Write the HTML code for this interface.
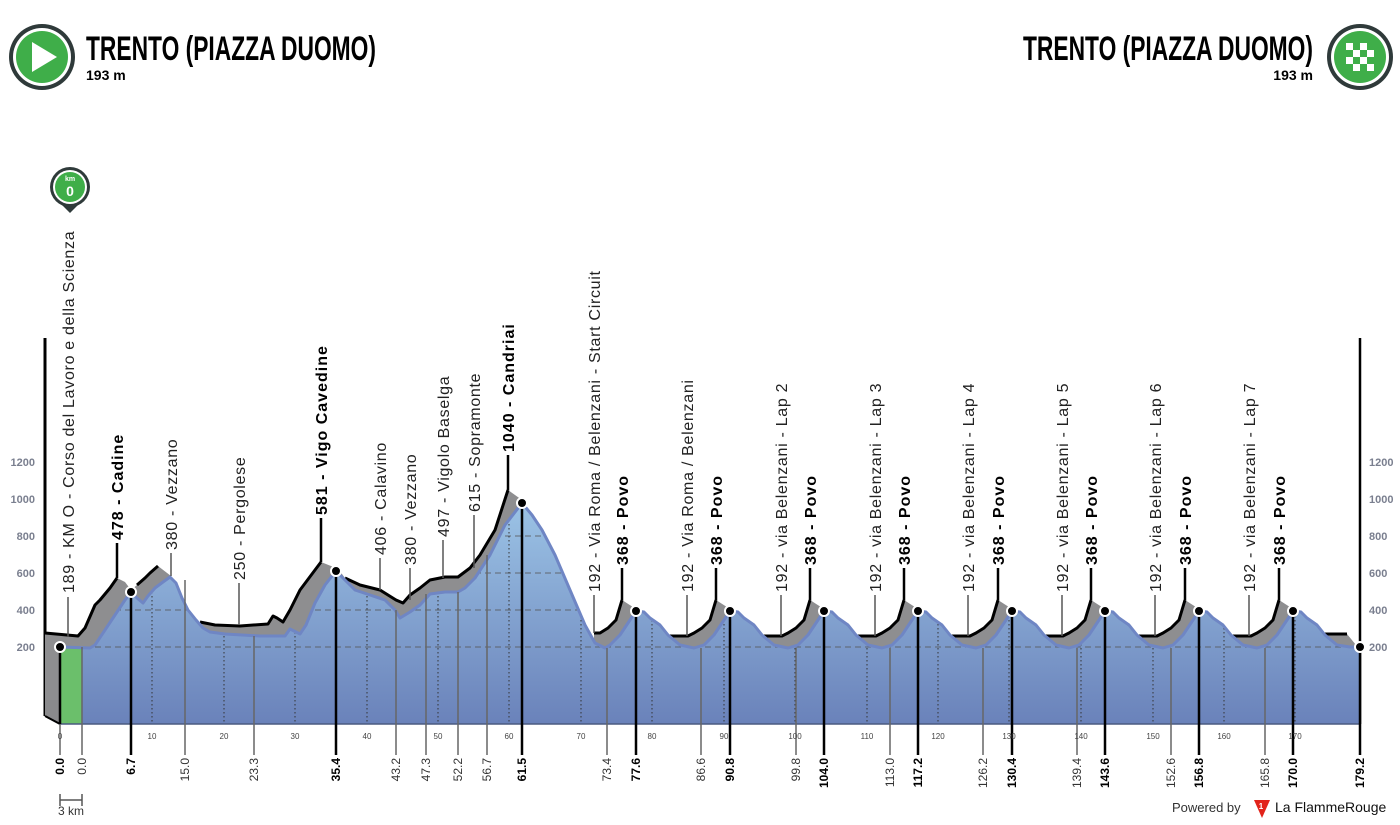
<!DOCTYPE html>
<html><head><meta charset="utf-8"><style>
html,body{margin:0;padding:0;background:#fff;}
svg{display:block;font-family:"Liberation Sans",sans-serif;}
.up{font-size:16px;fill:#222;letter-spacing:0.7px;}
.upb{font-size:16px;fill:#000;font-weight:bold;letter-spacing:1px;}
.lo{font-size:12px;fill:#333;}
.lob{font-size:12px;fill:#000;font-weight:bold;}
.tk{font-size:8px;fill:#444;font-family:"Liberation Sans Narrow","Liberation Sans",sans-serif;}
.ax{font-size:11px;fill:#7a7f8f;font-weight:bold;font-family:"Liberation Sans Narrow","Liberation Sans",sans-serif;}
</style></head><body>
<svg width="1400" height="825" viewBox="0 0 1400 825">
<defs>
<linearGradient id="bg" x1="0" y1="500" x2="0" y2="724" gradientUnits="userSpaceOnUse">
<stop offset="0" stop-color="#9cc4e6"/><stop offset="1" stop-color="#6a82ba"/></linearGradient>
<clipPath id="cp"><path id="frontd" d="M60,724 L60,647 90,648 95,645 105,630 115,615 125,600 131,592 137,598 143,603 148,596 155,588 163,582 170,577 176,583 182,598 188,610 196,620 203,628 210,632 225,634 260,636 285,636 290,629 296,632 300,634 306,625 315,603 325,585 336,571 345,580 355,590 370,595 385,600 395,610 400,618 410,612 420,605 430,594 445,592 458,592 465,588 475,578 490,555 505,525 522,503 532,515 542,530 555,555 570,590 585,625 595,643 605,648 610,645 620,635 630,620 636,611 644,612 650,618 660,625 668,635 680,645 694,648 704,645 714,635 724,620 730,611 738,612 744,618 754,625 762,635 774,645 788,648 798,645 808,635 818,620 824,611 832,612 838,618 848,625 856,635 868,645 882,648 892,645 902,635 912,620 918,611 926,612 932,618 942,625 950,635 962,645 976,648 986,645 996,635 1006,620 1012,611 1020,612 1026,618 1036,625 1044,635 1056,645 1069,648 1079,645 1089,635 1099,620 1105,611 1113,612 1119,618 1129,625 1137,635 1149,645 1163,648 1173,645 1183,635 1193,620 1199,611 1207,612 1213,618 1223,625 1231,635 1243,645 1257,648 1267,645 1277,635 1287,620 1293,611 1301,612 1307,618 1317,625 1325,635 1337,645 1350,647 1360,647 1360,724 Z"/></clipPath>
</defs>

<!-- header -->
<circle cx="42" cy="57" r="33" fill="#2f3a3a"/><circle cx="42" cy="57" r="29" fill="#fff"/><circle cx="42" cy="57" r="26" fill="#3fae49"/>
<polygon points="32,42 32,72 57,57" fill="#fff"/>
<text x="86" y="60" font-size="34" font-weight="bold" font-family="'Liberation Sans Narrow','Liberation Sans',sans-serif" textLength="290" lengthAdjust="spacingAndGlyphs">TRENTO (PIAZZA DUOMO)</text>
<text x="86" y="80" font-size="14" font-weight="bold" font-family="'Liberation Sans Narrow','Liberation Sans',sans-serif">193 m</text>
<text x="1313" y="60" font-size="34" font-weight="bold" text-anchor="end" font-family="'Liberation Sans Narrow','Liberation Sans',sans-serif" textLength="290" lengthAdjust="spacingAndGlyphs">TRENTO (PIAZZA DUOMO)</text>
<text x="1313" y="80" font-size="14" font-weight="bold" text-anchor="end" font-family="'Liberation Sans Narrow','Liberation Sans',sans-serif">193 m</text>
<circle cx="1360" cy="57" r="33" fill="#2f3a3a"/><circle cx="1360" cy="57" r="29" fill="#fff"/><circle cx="1360" cy="57" r="26" fill="#3fae49"/>
<g fill="#fff"><rect x="1346" y="43" width="28" height="28"/></g>
<g fill="#3fae49"><rect x="1353" y="43" width="7" height="7"/><rect x="1367" y="43" width="7" height="7"/><rect x="1346" y="50" width="7" height="7"/><rect x="1360" y="50" width="7" height="7"/><rect x="1353" y="57" width="7" height="7"/><rect x="1367" y="57" width="7" height="7"/><rect x="1346" y="64" width="7" height="7"/><rect x="1360" y="64" width="7" height="7"/></g>

<!-- km0 pin -->
<path d="M52,195 L70,213 L88,195 Z" fill="#2f3a3a"/>
<circle cx="70" cy="187" r="20" fill="#2f3a3a"/><circle cx="70" cy="187" r="17" fill="#fff"/><circle cx="70" cy="187" r="15" fill="#3fae49"/>
<text x="70" y="181" font-size="7" fill="#fff" text-anchor="middle" font-weight="bold">km</text>
<text x="70" y="196" font-size="14" fill="#fff" text-anchor="middle" font-weight="bold">0</text>

<!-- axes -->
<line x1="45" y1="338" x2="45" y2="716" stroke="#000" stroke-width="3"/>
<line x1="1360" y1="338" x2="1360" y2="724" stroke="#000" stroke-width="2.5"/>
<g class="ax" text-anchor="end">
<text x="35" y="466">1200</text><text x="35" y="503">1000</text><text x="35" y="540">800</text><text x="35" y="577">600</text><text x="35" y="614">400</text><text x="35" y="651">200</text></g>
<g class="ax">
<text x="1369" y="466">1200</text><text x="1369" y="503">1000</text><text x="1369" y="540">800</text><text x="1369" y="577">600</text><text x="1369" y="614">400</text><text x="1369" y="651">200</text></g>

<!-- left face -->
<polygon points="45,633 60,647 60,724 45,716" fill="#8a8a8c"/>
<line x1="45" y1="716" x2="60" y2="724" stroke="#000" stroke-width="2"/>

<!-- gray ridge areas -->
<g fill="#8e8e90">
<polygon points="45,633 78,636 85,628 95,605 100,600 110,588 117,578 125,582 131,590 137,585 145,578 150,573 158,566 171,576 171,700 45,700"/>
<polygon points="200,622 215,625 240,626 268,624 273,616 277,618 283,622 290,610 300,590 315,570 321,562 336,568 336,700 200,700"/>
<polygon points="336,566 345,578 360,585 380,590 396,600 403,603 410,595 420,588 430,580 445,577 458,577 470,568 480,555 495,530 508,490 522,500 522,700 336,700"/>
<polygon points="594,633 600,633 608,628 616,620 622,600 636,609 636,700 594,700"/>
<polygon points="670,636 688,636 694,633 702,628 710,620 716,600 730,609 730,700 670,700"/>
<polygon points="764,636 782,636 788,633 796,628 804,620 810,600 824,609 824,700 764,700"/>
<polygon points="858,636 876,636 882,633 890,628 898,620 904,600 918,609 918,700 858,700"/>
<polygon points="952,636 970,636 976,633 984,628 992,620 998,600 1012,609 1012,700 952,700"/>
<polygon points="1045,636 1063,636 1069,633 1077,628 1085,620 1091,600 1105,609 1105,700 1045,700"/>
<polygon points="1139,636 1157,636 1163,633 1171,628 1179,620 1185,600 1199,609 1199,700 1139,700"/>
<polygon points="1233,636 1251,636 1257,633 1265,628 1273,620 1279,600 1293,609 1293,700 1233,700"/>
<polygon points="1325,634 1347,634 1356,645 1356,700 1325,700"/>
</g>
<g fill="none" stroke="#000" stroke-width="3" stroke-linejoin="round">
<polyline points="45,633 78,636 85,628 95,605 100,600 110,588 117,578"/>
<polyline points="137,585 145,578 150,573 158,566"/>
<polyline points="200,622 215,625 240,626 268,624 273,616 277,618 283,622 290,610 300,590 315,570 321,562"/>
<polyline points="345,578 360,585 380,590 396,600 403,603 410,595 420,588 430,580 445,577 458,577 470,568 480,555 495,530 508,490"/>
<polyline points="594,633 600,633 608,628 616,620 622,600"/>
<polyline points="670,636 688,636 694,633 702,628 710,620 716,600"/>
<polyline points="764,636 782,636 788,633 796,628 804,620 810,600"/>
<polyline points="858,636 876,636 882,633 890,628 898,620 904,600"/>
<polyline points="952,636 970,636 976,633 984,628 992,620 998,600"/>
<polyline points="1045,636 1063,636 1069,633 1077,628 1085,620 1091,600"/>
<polyline points="1139,636 1157,636 1163,633 1171,628 1179,620 1185,600"/>
<polyline points="1233,636 1251,636 1257,633 1265,628 1273,620 1279,600"/>
<polyline points="1325,634 1347,634"/>
</g>

<!-- front -->
<use href="#frontd" fill="url(#bg)"/>
<rect x="60" y="647" width="22" height="77" fill="#6bbf6b"/>
<g clip-path="url(#cp)">
<g stroke="#555" stroke-dasharray="6 4" stroke-width="1" opacity="0.8">
<line x1="45" y1="610" x2="1360" y2="610"/><line x1="45" y1="647" x2="1360" y2="647"/><line x1="45" y1="573" x2="1360" y2="573"/><line x1="45" y1="536" x2="1360" y2="536"/></g>
<g stroke="#333" stroke-dasharray="1.5 2.5" stroke-width="1">
<line x1="152" y1="500" x2="152" y2="724"/><line x1="224" y1="500" x2="224" y2="724"/><line x1="295" y1="500" x2="295" y2="724"/><line x1="367" y1="500" x2="367" y2="724"/><line x1="438" y1="500" x2="438" y2="724"/><line x1="509" y1="500" x2="509" y2="724"/><line x1="581" y1="500" x2="581" y2="724"/><line x1="652" y1="500" x2="652" y2="724"/><line x1="724" y1="500" x2="724" y2="724"/><line x1="795" y1="500" x2="795" y2="724"/><line x1="867" y1="500" x2="867" y2="724"/><line x1="938" y1="500" x2="938" y2="724"/><line x1="1009" y1="500" x2="1009" y2="724"/><line x1="1081" y1="500" x2="1081" y2="724"/><line x1="1153" y1="500" x2="1153" y2="724"/><line x1="1224" y1="500" x2="1224" y2="724"/><line x1="1295" y1="500" x2="1295" y2="724"/></g>
</g>
<path d="M60,647 L90,648 95,645 105,630 115,615 125,600 131,592 137,598 143,603 148,596 155,588 163,582 170,577 176,583 182,598 188,610 196,620 203,628 210,632 225,634 260,636 285,636 290,629 296,632 300,634 306,625 315,603 325,585 336,571 345,580 355,590 370,595 385,600 395,610 400,618 410,612 420,605 430,594 445,592 458,592 465,588 475,578 490,555 505,525 522,503 532,515 542,530 555,555 570,590 585,625 595,643 605,648 610,645 620,635 630,620 636,611 644,612 650,618 660,625 668,635 680,645 694,648 704,645 714,635 724,620 730,611 738,612 744,618 754,625 762,635 774,645 788,648 798,645 808,635 818,620 824,611 832,612 838,618 848,625 856,635 868,645 882,648 892,645 902,635 912,620 918,611 926,612 932,618 942,625 950,635 962,645 976,648 986,645 996,635 1006,620 1012,611 1020,612 1026,618 1036,625 1044,635 1056,645 1069,648 1079,645 1089,635 1099,620 1105,611 1113,612 1119,618 1129,625 1137,635 1149,645 1163,648 1173,645 1183,635 1193,620 1199,611 1207,612 1213,618 1223,625 1231,635 1243,645 1257,648 1267,645 1277,635 1287,620 1293,611 1301,612 1307,618 1317,625 1325,635 1337,645 1350,647 1360,647" fill="none" stroke="#6f86c4" stroke-width="3" stroke-linejoin="round"/>
<line x1="60" y1="724" x2="1360" y2="724" stroke="#4a5a80" stroke-width="1.5"/>

<!-- upper marker lines -->
<g stroke="#555" stroke-width="1.5">
<line x1="68" y1="597" x2="68" y2="637"/><line x1="171" y1="553" x2="171" y2="576"/><line x1="239" y1="583" x2="239" y2="625"/><line x1="380" y1="558" x2="380" y2="590"/><line x1="410" y1="568" x2="410" y2="600"/><line x1="443" y1="540" x2="443" y2="578"/><line x1="474" y1="515" x2="474" y2="568"/>
<line x1="594" y1="595" x2="594" y2="633"/><line x1="687" y1="595" x2="687" y2="636"/><line x1="781" y1="595" x2="781" y2="636"/><line x1="875" y1="595" x2="875" y2="636"/><line x1="968" y1="595" x2="968" y2="636"/><line x1="1062" y1="595" x2="1062" y2="636"/><line x1="1155" y1="595" x2="1155" y2="636"/><line x1="1249" y1="595" x2="1249" y2="636"/>
</g>
<g stroke="#000" stroke-width="2.5">
<line x1="117" y1="543" x2="117" y2="578"/><line x1="321" y1="518" x2="321" y2="562"/><line x1="508" y1="455" x2="508" y2="490"/>
<line x1="622" y1="568" x2="622" y2="600"/><line x1="716" y1="568" x2="716" y2="600"/><line x1="810" y1="568" x2="810" y2="600"/><line x1="904" y1="568" x2="904" y2="600"/><line x1="998" y1="568" x2="998" y2="600"/><line x1="1091" y1="568" x2="1091" y2="600"/><line x1="1185" y1="568" x2="1185" y2="600"/><line x1="1279" y1="568" x2="1279" y2="600"/>
</g>

<!-- lower marker lines -->
<g stroke="#666" stroke-width="1.5">
<line x1="82" y1="647" x2="82" y2="755"/><line x1="185" y1="580" x2="185" y2="755"/><line x1="254" y1="636" x2="254" y2="755"/><line x1="396" y1="610" x2="396" y2="755"/><line x1="426" y1="594" x2="426" y2="755"/><line x1="458" y1="592" x2="458" y2="755"/><line x1="487" y1="555" x2="487" y2="755"/>
<line x1="607" y1="648" x2="607" y2="755"/><line x1="701" y1="648" x2="701" y2="755"/><line x1="796" y1="648" x2="796" y2="755"/><line x1="890" y1="648" x2="890" y2="755"/><line x1="983" y1="648" x2="983" y2="755"/><line x1="1077" y1="648" x2="1077" y2="755"/><line x1="1171" y1="648" x2="1171" y2="755"/><line x1="1265" y1="648" x2="1265" y2="755"/>
<line x1="60" y1="724" x2="60" y2="755"/>
</g>
<g stroke="#000" stroke-width="2.5">
<line x1="60" y1="647" x2="60" y2="724"/><line x1="131" y1="592" x2="131" y2="755"/><line x1="336" y1="571" x2="336" y2="755"/><line x1="522" y1="503" x2="522" y2="755"/>
<line x1="636" y1="611" x2="636" y2="755"/><line x1="730" y1="611" x2="730" y2="755"/><line x1="824" y1="611" x2="824" y2="755"/><line x1="918" y1="611" x2="918" y2="755"/><line x1="1012" y1="611" x2="1012" y2="755"/><line x1="1105" y1="611" x2="1105" y2="755"/><line x1="1199" y1="611" x2="1199" y2="755"/><line x1="1293" y1="611" x2="1293" y2="755"/><line x1="1360" y1="647" x2="1360" y2="755"/>
</g>

<!-- dots -->
<g fill="#000" stroke="#fff" stroke-width="2">
<circle cx="60" cy="647" r="5"/><circle cx="131" cy="592" r="5"/><circle cx="336" cy="571" r="5"/><circle cx="522" cy="503" r="5"/>
<circle cx="636" cy="611" r="5"/><circle cx="730" cy="611" r="5"/><circle cx="824" cy="611" r="5"/><circle cx="918" cy="611" r="5"/><circle cx="1012" cy="611" r="5"/><circle cx="1105" cy="611" r="5"/><circle cx="1199" cy="611" r="5"/><circle cx="1293" cy="611" r="5"/><circle cx="1360" cy="647" r="5"/>
</g>

<!-- upper labels -->
<text class="up" transform="translate(74,593) rotate(-90)">189 - KM O - Corso del Lavoro e della Scienza</text>
<text class="upb" transform="translate(123,540) rotate(-90)">478 - Cadine</text>
<text class="up" transform="translate(177,550) rotate(-90)">380 - Vezzano</text>
<text class="up" transform="translate(245,580) rotate(-90)">250 - Pergolese</text>
<text class="upb" transform="translate(327,515) rotate(-90)">581 - Vigo Cavedine</text>
<text class="up" transform="translate(386,555) rotate(-90)">406 - Calavino</text>
<text class="up" transform="translate(416,565) rotate(-90)">380 - Vezzano</text>
<text class="up" transform="translate(449,537) rotate(-90)">497 - Vigolo Baselga</text>
<text class="up" transform="translate(480,512) rotate(-90)">615 - Sopramonte</text>
<text class="upb" transform="translate(514,452) rotate(-90)">1040 - Candriai</text>
<text class="up" transform="translate(600,592) rotate(-90)">192 - Via Roma / Belenzani - Start Circuit</text>
<text class="upb" transform="translate(628,565) rotate(-90)">368 - Povo</text>
<text class="up" transform="translate(693,592) rotate(-90)">192 - Via Roma / Belenzani</text>
<text class="upb" transform="translate(722,565) rotate(-90)">368 - Povo</text>
<text class="up" transform="translate(787,592) rotate(-90)">192 - via Belenzani - Lap 2</text>
<text class="upb" transform="translate(816,565) rotate(-90)">368 - Povo</text>
<text class="up" transform="translate(881,592) rotate(-90)">192 - via Belenzani - Lap 3</text>
<text class="upb" transform="translate(910,565) rotate(-90)">368 - Povo</text>
<text class="up" transform="translate(974,592) rotate(-90)">192 - via Belenzani - Lap 4</text>
<text class="upb" transform="translate(1004,565) rotate(-90)">368 - Povo</text>
<text class="up" transform="translate(1068,592) rotate(-90)">192 - via Belenzani - Lap 5</text>
<text class="upb" transform="translate(1097,565) rotate(-90)">368 - Povo</text>
<text class="up" transform="translate(1161,592) rotate(-90)">192 - via Belenzani - Lap 6</text>
<text class="upb" transform="translate(1191,565) rotate(-90)">368 - Povo</text>
<text class="up" transform="translate(1255,592) rotate(-90)">192 - via Belenzani - Lap 7</text>
<text class="upb" transform="translate(1285,565) rotate(-90)">368 - Povo</text>

<!-- ticks -->
<g class="tk" text-anchor="middle">
<text x="60" y="739">0</text><text x="152" y="739">10</text><text x="224" y="739">20</text><text x="295" y="739">30</text><text x="367" y="739">40</text><text x="438" y="739">50</text><text x="509" y="739">60</text><text x="581" y="739">70</text><text x="652" y="739">80</text><text x="724" y="739">90</text><text x="795" y="739">100</text><text x="867" y="739">110</text><text x="938" y="739">120</text><text x="1009" y="739">130</text><text x="1081" y="739">140</text><text x="1153" y="739">150</text><text x="1224" y="739">160</text><text x="1295" y="739">170</text></g>

<!-- lower labels -->
<g text-anchor="end">
<text class="lob" transform="translate(64,758) rotate(-90)">0.0</text>
<text class="lo" transform="translate(86,758) rotate(-90)">0.0</text>
<text class="lob" transform="translate(135,758) rotate(-90)">6.7</text>
<text class="lo" transform="translate(189,758) rotate(-90)">15.0</text>
<text class="lo" transform="translate(258,758) rotate(-90)">23.3</text>
<text class="lob" transform="translate(340,758) rotate(-90)">35.4</text>
<text class="lo" transform="translate(400,758) rotate(-90)">43.2</text>
<text class="lo" transform="translate(430,758) rotate(-90)">47.3</text>
<text class="lo" transform="translate(462,758) rotate(-90)">52.2</text>
<text class="lo" transform="translate(491,758) rotate(-90)">56.7</text>
<text class="lob" transform="translate(526,758) rotate(-90)">61.5</text>
<text class="lo" transform="translate(611,758) rotate(-90)">73.4</text>
<text class="lob" transform="translate(640,758) rotate(-90)">77.6</text>
<text class="lo" transform="translate(705,758) rotate(-90)">86.6</text>
<text class="lob" transform="translate(734,758) rotate(-90)">90.8</text>
<text class="lo" transform="translate(800,758) rotate(-90)">99.8</text>
<text class="lob" transform="translate(828,758) rotate(-90)">104.0</text>
<text class="lo" transform="translate(894,758) rotate(-90)">113.0</text>
<text class="lob" transform="translate(922,758) rotate(-90)">117.2</text>
<text class="lo" transform="translate(987,758) rotate(-90)">126.2</text>
<text class="lob" transform="translate(1016,758) rotate(-90)">130.4</text>
<text class="lo" transform="translate(1081,758) rotate(-90)">139.4</text>
<text class="lob" transform="translate(1109,758) rotate(-90)">143.6</text>
<text class="lo" transform="translate(1175,758) rotate(-90)">152.6</text>
<text class="lob" transform="translate(1203,758) rotate(-90)">156.8</text>
<text class="lo" transform="translate(1269,758) rotate(-90)">165.8</text>
<text class="lob" transform="translate(1297,758) rotate(-90)">170.0</text>
<text class="lob" transform="translate(1364,758) rotate(-90)">179.2</text>
</g>

<!-- scale -->
<g stroke="#555" stroke-width="1.5"><line x1="60" y1="800" x2="82" y2="800"/><line x1="60" y1="794" x2="60" y2="806"/><line x1="82" y1="794" x2="82" y2="806"/></g>
<text x="58" y="815" font-size="12" fill="#333">3 km</text>

<!-- footer -->
<text x="1172" y="812" font-size="13" fill="#333">Powered by</text>
<path d="M1254,800 L1270,800 L1262,818 Z" fill="#e2231a"/>
<text x="1261" y="809" font-size="8" fill="#fff" text-anchor="middle" font-weight="bold">1</text>
<text x="1275" y="812" font-size="14" fill="#111">La FlammeRouge</text>
</svg>
</body></html>
